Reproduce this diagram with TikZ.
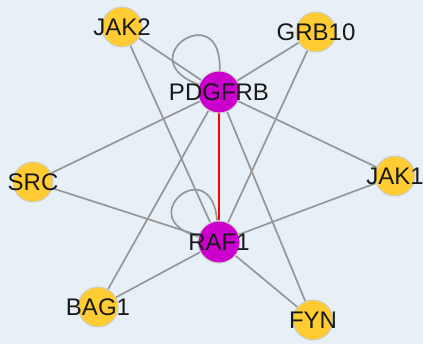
\documentclass[tikz,border=0pt]{standalone}
\usepackage{fontspec}
\setmainfont{Liberation Sans}
\usepackage{tikz}
\usepackage{xcolor}
\definecolor{bgblue}{RGB}{232,240,247}
\definecolor{geneyellow}{RGB}{255,204,51}
\definecolor{hubmagenta}{RGB}{204,0,204}
\definecolor{edgegray}{RGB}{150,150,150}
\definecolor{rimgray}{RGB}{205,205,205}
\pgfdeclarelayer{background}
\pgfdeclarelayer{edgelayer}
\pgfsetlayers{background,edgelayer,main}

\begin{document}
\begin{tikzpicture}[x=1pt,y=1pt]
	\tikzstyle{gene} = [circle, fill=geneyellow, draw=rimgray, line width=1, minimum size=40, inner sep=0,
		label distance=0, label={[font=\fontsize{24}{24}\selectfont, text=black!90, inner sep=0]center:\genename}]
	\tikzstyle{hub} = [gene, fill=hubmagenta, minimum size=42]
	\tikzstyle{edge} = [draw=edgegray, line width=1.7]
	\tikzstyle{redge} = [draw=red, line width=1.4]
	\useasboundingbox (0,0) rectangle (423,344);
	\begin{pgfonlayer}{background}
		\fill [bgblue] (0,0) rectangle (423,344);
	\end{pgfonlayer}
		\def\genename{JAK2}   \node[gene] (jak2) at (122,317) {};
		\def\genename{GRB10}  \node[gene] (grb10) at (316,312) {};
		\def\genename{SRC}    \node[gene] (src) at (33,162) {};
		\def\genename{JAK1}   \node[gene] (jak1) at (395,168) {};
		\def\genename{BAG1}   \node[gene] (bag1) at (98,37) {};
		\def\genename{FYN}    \node[gene] (fyn) at (313,24) {};
		\def\genename{PDGFRB} \node[hub] (pdgfrb) at (219,252) {};
		\def\genename{RAF1}   \node[hub] (raf1) at (219,102) {};
	\begin{pgfonlayer}{edgelayer}
		\foreach \g in {jak2,grb10,src,jak1,bag1,fyn}
			\draw[edge] (\g) -- (pdgfrb) (\g) -- (raf1);
		\draw[edge] (pdgfrb) to[out=88,in=160,distance=75] (pdgfrb);
		\draw[edge] (raf1) to[out=95,in=165,distance=70] (raf1);
		\draw[redge] (pdgfrb) -- (raf1);
	\end{pgfonlayer}
\end{tikzpicture}
\end{document}
